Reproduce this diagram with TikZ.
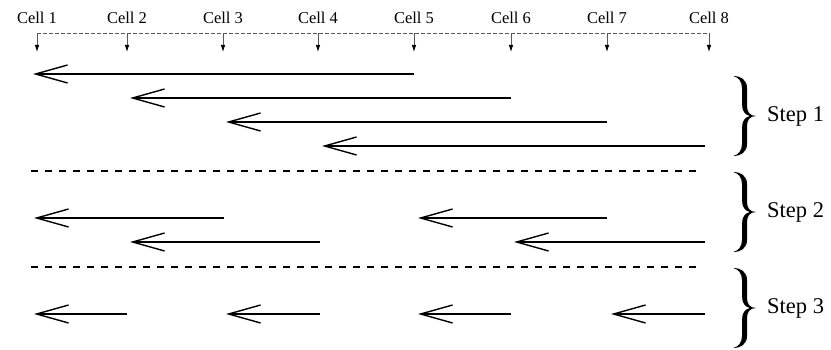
\documentclass[tikz,border=0pt]{standalone}
\usepackage{fontspec}
\setmainfont{Liberation Serif}
\usetikzlibrary{arrows.meta}
\tikzset{
  celllabel/.style={font=\fontsize{16.5}{18}\selectfont, inner sep=0pt, anchor=base},
  steplabel/.style={font=\fontsize{22.5}{24}\selectfont, inner sep=0pt, anchor=west},
  msg/.style={line width=1.4pt, {Straight Barb[length=32pt,width=18pt,line width=1.4pt]}-},
  sep/.style={line width=1.4pt, dash pattern=on 7pt off 7pt},
  tick/.style={gray!70!black, line width=0.8pt, -{Latex[length=7pt,width=4.5pt,fill=black,color=black]}},
  topline/.style={gray!70!black, line width=0.8pt, dash pattern=on 3.5pt off 2.5pt},
  bigbrace/.pic={
    \fill (0,0) .. controls (8,0) and (14,4) .. (14,12) -- (14,30)
      .. controls (14,36) and (17,40) .. (23,40)
      .. controls (17,40) and (14,44) .. (14,50) -- (14,68)
      .. controls (14,76) and (8,80) .. (0,80)
      .. controls (5,79) and (9,75) .. (9,68) -- (9,52)
      .. controls (9,45) and (12,41) .. (17,40)
      .. controls (12,39) and (9,35) .. (9,28) -- (9,12)
      .. controls (9,5) and (5,1) .. (0,0) -- cycle;
  },
}
\begin{document}
\begin{tikzpicture}[x=1pt,y=-1pt]
\useasboundingbox (0,0) rectangle (831,350);
% cells
\foreach \i/\x in {1/37,2/127,3/223,4/318,5/414,6/511,7/607,8/709}{
  \node[celllabel] (c\i) at (\x,24) {Cell \i};
  \coordinate (t\i) at (\x,33);
  \coordinate (b\i) at (\x,52);
}
\draw[topline] (t1) -- (t8);
\foreach \i in {1,...,8}{ \draw[tick] (t\i) -- (b\i); }
% step 1
\coordinate (a1s) at (414,74);  \coordinate (a1e) at (33,74);
\coordinate (a2s) at (511,98);  \coordinate (a2e) at (130,98);
\coordinate (a3s) at (607,122); \coordinate (a3e) at (226,122);
\coordinate (a4s) at (705,146); \coordinate (a4e) at (322,146);
\draw[msg] (a1e) -- (a1s);
\draw[msg] (a2e) -- (a2s);
\draw[msg] (a3e) -- (a3s);
\draw[msg] (a4e) -- (a4s);
\coordinate (d1s) at (31,171); \coordinate (d1e) at (700,171);
\draw[sep] (d1s) -- (d1e);
% step 2
\coordinate (e1s) at (224,218); \coordinate (e1e) at (34,218);
\coordinate (e2s) at (607,218); \coordinate (e2e) at (418,218);
\coordinate (e3s) at (320,242); \coordinate (e3e) at (130,242);
\coordinate (e4s) at (705,242); \coordinate (e4e) at (514,242);
\draw[msg] (e1e) -- (e1s);
\draw[msg] (e2e) -- (e2s);
\draw[msg] (e3e) -- (e3s);
\draw[msg] (e4e) -- (e4s);
\coordinate (d2s) at (31,267); \coordinate (d2e) at (700,267);
\draw[sep] (d2s) -- (d2e);
% step 3
\coordinate (f1s) at (127,314); \coordinate (f1e) at (34,314);
\coordinate (f2s) at (320,314); \coordinate (f2e) at (226,314);
\coordinate (f3s) at (511,314); \coordinate (f3e) at (418,314);
\coordinate (f4s) at (705,314); \coordinate (f4e) at (611,314);
\draw[msg] (f1e) -- (f1s);
\draw[msg] (f2e) -- (f2s);
\draw[msg] (f3e) -- (f3s);
\draw[msg] (f4e) -- (f4s);
% braces
\pic (br1) at (733,76) {bigbrace};
\pic (br2) at (733,172) {bigbrace};
\pic (br3) at (733,268) {bigbrace};
\node[steplabel] (s1) at (767,116) {Step 1};
\node[steplabel] (s2) at (767,212) {Step 2};
\node[steplabel] (s3) at (767,308) {Step 3};
\end{tikzpicture}
\end{document}
